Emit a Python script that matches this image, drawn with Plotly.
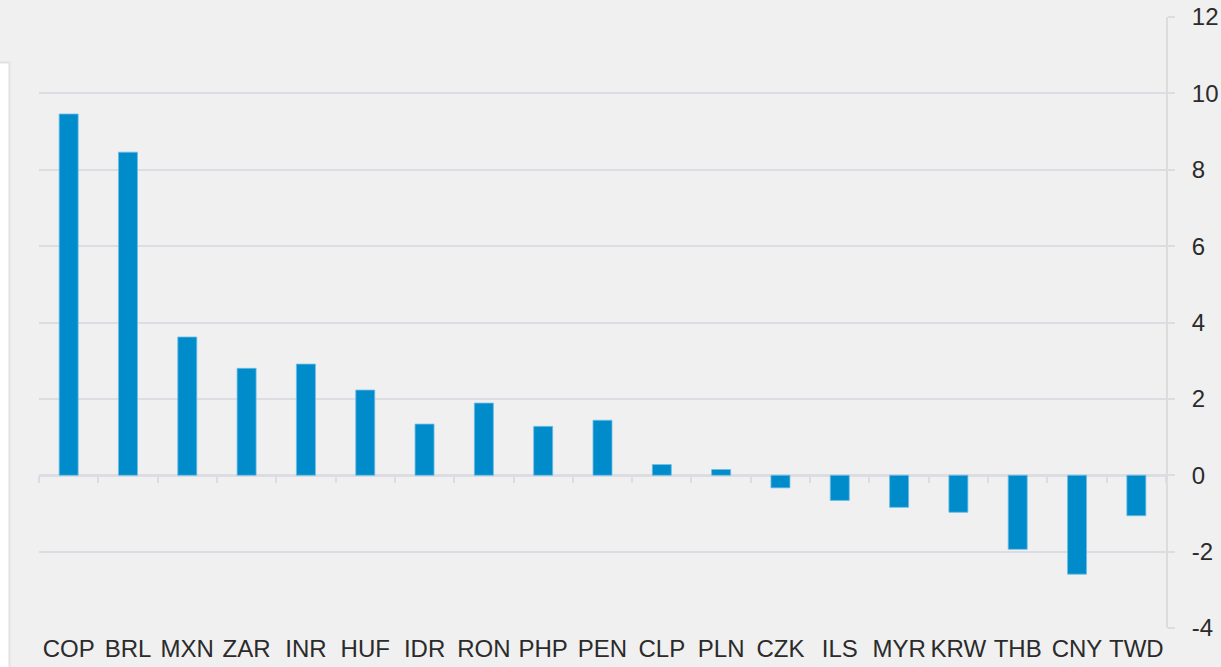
import plotly.graph_objects as go

categories = ["COP", "BRL", "MXN", "ZAR", "INR", "HUF", "IDR", "RON", "PHP", "PEN",
              "CLP", "PLN", "CZK", "ILS", "MYR", "KRW", "THB", "CNY", "TWD"]
values = [9.46, 8.46, 3.62, 2.80, 2.91, 2.23, 1.34, 1.89, 1.28, 1.44,
          0.28, 0.15, -0.33, -0.66, -0.84, -0.97, -1.94, -2.59, -1.06]
y_ticks = [-4, -2, 0, 2, 4, 6, 8, 10, 12]
y_tick_labels = ["-4", "-2", "0", "2", "4", "6", "8", "10", "12"]

W, H = 1221, 667
ml, mr, mt, mb = 39, 55, 17, 39
pw, ph = W - ml - mr, H - mt - mb

grid = "#dcdde2"
bg = "#f0f0f0"
FS = 24

fig = go.Figure()
fig.add_trace(go.Bar(x=categories, y=values,
                     marker=dict(color="#008ccb", line=dict(width=0.8, color="#6dbbe4")),
                     showlegend=False, hoverinfo="x+y"))
# invisible helper trace for the tick axis at zero
fig.add_trace(go.Scatter(x=categories, y=[0] * len(categories), xaxis="x2", mode="markers",
                         marker=dict(opacity=0), showlegend=False, hoverinfo="skip"))

zero_pos = (0 - y_ticks[0]) / (y_ticks[-1] - y_ticks[0])
xrange = [-0.5, len(categories) - 0.5]

fig.update_layout(
    width=W, height=H,
    margin=dict(l=ml, r=mr, t=mt, b=mb, pad=0, autoexpand=False),
    paper_bgcolor=bg, plot_bgcolor=bg,
    font=dict(family="Liberation Sans, Arial, sans-serif", size=FS, color="#2b2b2b"),
    bargap=0.68,
    xaxis=dict(categoryorder="array", categoryarray=categories, range=xrange, autorange=False,
               showgrid=False, automargin=False,
               showline=False, ticks="", zeroline=False, ticklabelstandoff=4,
               tickfont=dict(size=FS, color="#2b2b2b")),
    xaxis2=dict(overlaying="x", anchor="free", position=zero_pos, range=xrange, autorange=False,
                categoryorder="array", categoryarray=categories, automargin=False,
                tickson="boundaries", ticks="outside", ticklen=7, tickwidth=2,
                tickcolor=grid, showticklabels=False, showgrid=False, showline=False,
                zeroline=False),
    yaxis=dict(side="right", range=[y_ticks[0], y_ticks[-1]], autorange=False,
               tickvals=y_ticks, ticktext=y_tick_labels, automargin=False,
               showgrid=True, gridcolor=grid, gridwidth=2,
               zeroline=True, zerolinecolor=grid, zerolinewidth=3,
               showline=True, linecolor="#dcdcdc", linewidth=2,
               ticks="outside", ticklen=7, tickwidth=2, tickcolor=grid,
               ticklabelstandoff=12, tickfont=dict(size=FS, color="#2b2b2b")),
    shapes=[dict(type="rect", xref="paper", yref="paper",
                 x0=(-20 - ml) / pw, x1=(9.5 - ml) / pw,
                 y0=-(mb + 20) / ph, y1=(ph + mt - 62.5) / ph,
                 fillcolor="#ffffff", line=dict(color="#e2e2e2", width=2), layer="below")],
)

fig.write_html("out.html", config={"displayModeBar": False},
               post_script="document.body.style.margin='0';document.body.style.overflow='hidden';")
